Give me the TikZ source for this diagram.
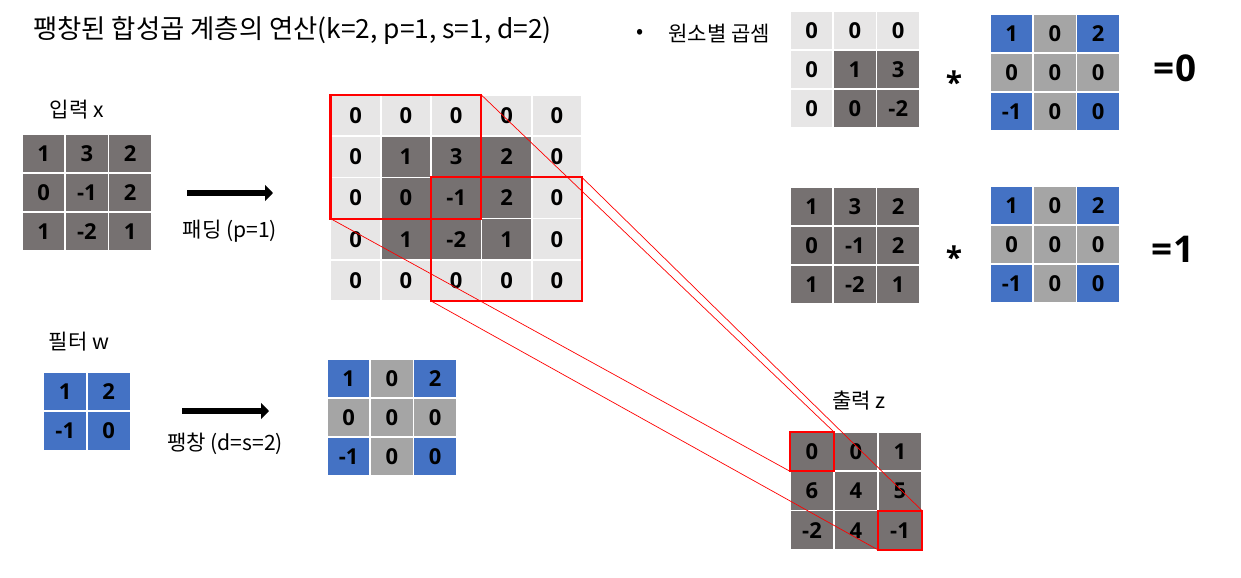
\documentclass[tikz,border=0pt]{standalone}
\usepackage{fontspec}
\setmainfont{Noto Sans CJK KR}
\newfontfamily\numfont{Open Sans}
\usetikzlibrary{arrows.meta}

\begin{document}
\begin{tikzpicture}
	[x=0.02cm,y=-0.02cm,line cap=round,
	%Styles
	cell/.style={draw=white,line width=1pt,inner sep=0pt,outer sep=0pt,
		font=\numfont\bfseries\fontsize{12.5}{14}\selectfont},
	cell size/.style 2 args={minimum width=#1*0.02cm,minimum height=#2*0.02cm},
	pad cell/.style={cell,fill=padgray},
	data cell/.style={cell,fill=datagray},
	tap cell/.style={cell,fill=tapblue},
	gap cell/.style={cell,fill=gapgray},
	red window/.style={draw=red,line width=1.2pt},
	trace/.style={red,line width=0.4pt},
	caption/.style={font=\fontsize{12}{14}\selectfont},
	result/.style={font=\numfont\bfseries\fontsize{21}{24}\selectfont},
	op arrow/.style={line width=3.4pt,line cap=butt,-{Triangle[length=4.5pt,width=9pt]}}
	]
	
	%Colors
	\definecolor{padgray}{HTML}{E7E6E6}	%padding zeros
	\definecolor{datagray}{HTML}{767171}	%input values
	\definecolor{tapblue}{HTML}{4472C4}	%filter taps
	\definecolor{gapgray}{HTML}{A5A5A5}	%dilation holes
	
	\useasboundingbox (0,0) rectangle (1241,578);
	
	%Texts
	\node[anchor=west,inner sep=0pt,font=\fontsize{15}{18}\selectfont] (title) at (33,31) {팽창된 합성곱 계층의 연산(k=2, p=1, s=1, d=2)};
	\node[caption] (bullet) at (640,34) {•};
	\node[caption,anchor=west,inner sep=0pt] (elem label) at (668,33) {원소별 곱셈};
	\node[caption] (x label) at (77,110) {입력 x};
	\node[caption] (pad label) at (230,231) {패딩 (p=1)};
	\node[caption] (w label) at (79,342) {필터 w};
	\node[caption] (dil label) at (225,444) {팽창 (d=s=2)};
	\node[caption] (z label) at (859,401) {출력 z};
	
	%Input x and its copy in the product
	\foreach \name/\gx/\gy in {x/22/134, b/790/187}
		\foreach \vals [count=\row from 0] in {{1,3,2},{0,-1,2},{1,-2,1}}
			\foreach \v [count=\col from 0] in \vals
				\node[data cell,cell size={43.3}{39}] (\name-\row-\col) at ({\gx+(\col+0.5)*43.3},{\gy+(\row+0.5)*39}) {\v};
	
	%Padded input
	\foreach \vals [count=\row from 0] in {{0,0,0,0,0},{0,1,3,2,0},{0,0,-1,2,0},{0,1,-2,1,0},{0,0,0,0,0}}
		\foreach \v [count=\col from 0] in \vals {
			\pgfmathtruncatemacro\inside{and(and(\row>0,\row<4),and(\col>0,\col<4))}
			\ifnum\inside=1 \def\kind{data cell}\else\def\kind{pad cell}\fi
			\node[\kind,cell size={50.3}{41.2}] (p-\row-\col) at ({330.5+(\col+0.5)*50.3},{95+(\row+0.5)*41.2}) {\v};
		}
	
	%Window taken from the padded input
	\foreach \vals [count=\row from 0] in {{0,0,0},{0,1,3},{0,0,-2}}
		\foreach \v [count=\col from 0] in \vals {
			\pgfmathtruncatemacro\inside{and(\row>0,\col>0)}
			\ifnum\inside=1 \def\kind{data cell}\else\def\kind{pad cell}\fi
			\node[\kind,cell size={43.3}{39}] (a-\row-\col) at ({790+(\col+0.5)*43.3},{10.7+(\row+0.5)*39}) {\v};
		}
	
	%Filter w
	\foreach \vals [count=\row from 0] in {{1,2},{-1,0}}
		\foreach \v [count=\col from 0] in \vals
			\node[tap cell,cell size={43.5}{39.2}] (w-\row-\col) at ({43.5+(\col+0.5)*43.5},{372+(\row+0.5)*39.2}) {\v};
	
	%Dilated filter, three times
	\foreach \name/\gx/\gy in {d/327/359, fa/990/14, fb/990/186}
		\foreach \vals [count=\row from 0] in {{1,0,2},{0,0,0},{-1,0,0}}
			\foreach \v [count=\col from 0] in \vals {
				\pgfmathtruncatemacro\tap{and(mod(\row,2)==0,mod(\col,2)==0)}
				\ifnum\tap=1 \def\kind{tap cell}\else\def\kind{gap cell}\fi
				\node[\kind,cell size={43.3}{39}] (\name-\row-\col) at ({\gx+(\col+0.5)*43.3},{\gy+(\row+0.5)*39}) {\v};
			}
	
	%Output z
	\foreach \vals [count=\row from 0] in {{0,0,1},{6,4,5},{-2,4,-1}}
		\foreach \v [count=\col from 0] in \vals
			\node[data cell,cell size={44}{39.3}] (z-\row-\col) at ({790+(\col+0.5)*44},{432+(\row+0.5)*39.3}) {\v};
	
	%Operators and results
	\node[result,font=\numfont\bfseries\fontsize{17}{20}\selectfont] (times a) at (954,82) {*};
	\node[result,font=\numfont\bfseries\fontsize{17}{20}\selectfont] (times b) at (954,257) {*};
	\node[result] (eq a) at (1175,68) {=0};
	\node[result] (eq b) at (1173,249) {=1};
	
	%Arrows
	\coordinate (pad from) at (187,193);
	\coordinate (pad to) at (273,193);
	\coordinate (dil from) at (182,411);
	\coordinate (dil to) at (269,411);
	\draw[op arrow] (pad from) -- (pad to);
	\draw[op arrow] (dil from) -- (dil to);
	
	%Windows and traces
	\draw[red window] (p-0-0.north west) rectangle (p-2-2.south east);
	\draw[red window] (p-2-2.north west) rectangle (p-4-4.south east);
	\draw[red window] (z-0-0.north west) rectangle (z-0-0.south east);
	\draw[red window] (z-2-2.north west) rectangle (z-2-2.south east);
	\draw[trace] (p-0-2.north east) -- (z-0-0.north east);
	\draw[trace] (p-2-0.south west) -- (z-0-0.south west);
	\draw[trace] (p-2-4.north east) -- (z-2-2.north east);
	\draw[trace] (p-4-2.south west) -- (z-2-2.south west);
\end{tikzpicture}
\end{document}
